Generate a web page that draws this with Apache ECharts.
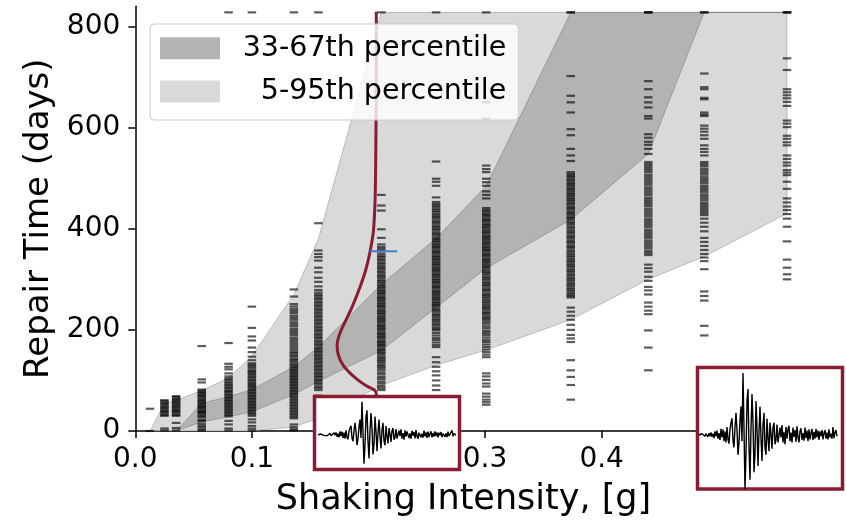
<!DOCTYPE html>
<html>
<head>
<meta charset="utf-8">
<script src="https://cdn.jsdelivr.net/npm/echarts@6.0.0/dist/echarts.min.js"></script>
<style>
html, body { margin: 0; padding: 0; background: #ffffff; }
#chart { width: 846px; height: 522px; }
</style>
</head>
<body>
<div id="chart"></div>
<script>
// Shaking intensity levels (g) at which repair times were simulated
const imLevels = [0.0126, 0.025, 0.035, 0.057, 0.080, 0.100, 0.136, 0.157, 0.211, 0.258, 0.301, 0.3735, 0.440, 0.488, 0.559];

// Percentile envelopes of repair time (days) at each intensity level
const p05 = [0, 0, 0, 0, 0, 0, 8, 25, 90, 130, 160, 220, 300, 345, 430];
const p33 = [0, 0, 0, 18, 28, 38, 72, 98, 159, 244, 322, 418, 548, 828, 828];
const p67 = [0, 0, 0, 55, 68, 82, 127, 166, 290, 381, 485, 828, 828, 828, 828];
const p95 = [0, 55, 61, 80, 105, 148, 270, 380, 828, 828, 828, 828, 828, 828, 828];

// Simulated repair times (days) per intensity level; 828 is the cap
const rt01 = [44, 0];
const rt02 = [61, 59, 56, 54, 51, 48, 46, 43, 40, 38, 35, 32, 30, 5, 1];
const rt03 = [69, 67, 64, 62, 60, 57, 55, 52, 50, 47, 45, 42, 40, 38, 35, 32, 30, 16, 6, 1];
const rt04 = [168, 102, 96, 82, 80, 77, 75, 72, 70, 68, 65, 62, 60, 58, 55, 53, 50, 48, 46, 43, 40, 38, 36, 33, 30, 27, 22, 19, 14, 10, 7, 3, 1];
const rt05 = [828, 174, 133, 127, 122, 114, 108, 104, 101, 97, 94, 91, 88, 85, 82, 79, 77, 74, 71, 68, 65, 62, 59, 56, 53, 50, 47, 44, 41, 38, 35, 32, 29, 20, 13, 5, 1];
const rt06 = [828, 246, 204, 187, 179, 165, 156, 147, 140, 134, 131, 128, 125, 121, 118, 116, 113, 110, 107, 104, 101, 98, 95, 92, 90, 87, 84, 81, 78, 75, 72, 69, 66, 63, 60, 57, 54, 51, 48, 45, 42, 39, 36, 33, 30, 23, 17, 10, 5, 1];
const rt07 = [828, 280, 266, 251, 246, 241, 237, 233, 228, 224, 220, 215, 211, 207, 202, 198, 194, 190, 185, 181, 177, 173, 169, 165, 161, 157, 154, 150, 147, 143, 140, 137, 133, 130, 127, 124, 121, 118, 115, 112, 109, 106, 103, 100, 97, 94, 91, 88, 85, 82, 79, 76, 73, 70, 67, 64, 61, 58, 55, 52, 49, 46, 43, 40, 37, 34, 31, 28, 25, 13, 8, 4, 1];
const rt08 = [828, 411, 357, 350, 344, 337, 323, 314, 303, 295, 286, 279, 274, 270, 267, 263, 260, 256, 253, 249, 246, 242, 239, 235, 232, 228, 225, 221, 218, 214, 211, 207, 204, 200, 197, 193, 190, 186, 183, 179, 176, 172, 169, 165, 162, 158, 155, 151, 148, 144, 141, 137, 134, 130, 127, 123, 120, 116, 113, 109, 106, 102, 99, 95, 92, 88, 85, 81, 70, 58, 45, 30, 12];
const rt09 = [828, 467, 446, 436, 399, 382, 369, 364, 360, 356, 351, 347, 344, 340, 337, 333, 330, 326, 323, 320, 316, 313, 309, 306, 303, 299, 296, 293, 289, 286, 283, 279, 276, 273, 270, 266, 263, 260, 257, 253, 250, 247, 244, 240, 237, 234, 231, 227, 224, 221, 218, 215, 211, 208, 205, 202, 199, 195, 192, 189, 186, 183, 179, 176, 173, 170, 167, 163, 160, 157, 154, 151, 147, 144, 141, 138, 135, 131, 128, 125, 121, 116, 112, 107, 103, 98, 94, 89, 85, 81];
const rt10 = [828, 533, 499, 493, 485, 462, 453, 449, 446, 443, 439, 436, 433, 429, 426, 423, 420, 416, 413, 410, 406, 403, 400, 397, 393, 390, 387, 383, 380, 377, 374, 370, 367, 364, 361, 357, 354, 351, 347, 344, 341, 338, 334, 331, 328, 324, 321, 318, 315, 311, 308, 305, 301, 298, 295, 292, 288, 285, 282, 278, 275, 272, 269, 265, 262, 259, 255, 252, 249, 246, 242, 239, 236, 232, 229, 226, 222, 219, 216, 212, 209, 205, 202, 199, 194, 189, 184, 180, 175, 170, 166, 146, 136, 127, 118, 110, 100, 90, 81];
const rt11 = [828, 650, 618, 525, 518, 512, 499, 492, 485, 474, 467, 460, 441, 437, 434, 430, 427, 424, 420, 417, 414, 410, 407, 404, 401, 397, 394, 391, 387, 384, 381, 378, 374, 371, 368, 364, 361, 358, 355, 351, 348, 345, 341, 338, 335, 332, 328, 325, 322, 318, 315, 312, 309, 305, 302, 299, 295, 292, 289, 286, 282, 279, 276, 272, 269, 266, 263, 259, 256, 253, 249, 246, 243, 240, 236, 233, 230, 226, 223, 220, 216, 212, 207, 203, 198, 194, 190, 185, 180, 176, 171, 166, 161, 156, 151, 146, 114, 108, 101, 94, 88, 74, 68, 62, 57, 52];
const rt12 = [828, 828, 702, 663, 650, 630, 597, 585, 558, 545, 534, 512, 508, 505, 502, 498, 495, 491, 488, 485, 481, 478, 475, 471, 468, 465, 461, 458, 455, 451, 448, 444, 441, 438, 434, 431, 428, 424, 421, 418, 414, 411, 408, 404, 401, 397, 394, 391, 387, 384, 381, 377, 374, 371, 367, 364, 361, 357, 354, 350, 347, 344, 340, 337, 334, 330, 327, 324, 320, 317, 314, 310, 307, 303, 300, 297, 293, 290, 287, 283, 280, 277, 273, 270, 267, 264, 244, 236, 228, 220, 210, 200, 190, 183, 176, 140, 120, 107, 91, 62];
const rt13 = [828, 828, 828, 692, 676, 660, 650, 640, 623, 618, 587, 580, 572, 566, 558, 548, 532, 528, 524, 520, 516, 512, 507, 503, 499, 495, 491, 487, 482, 478, 474, 470, 466, 461, 457, 453, 449, 445, 440, 436, 432, 428, 424, 419, 415, 411, 407, 403, 398, 394, 390, 386, 382, 377, 373, 369, 365, 361, 356, 352, 348, 329, 322, 315, 305, 297, 285, 278, 270, 254, 246, 238, 231, 199, 165, 120];
const rt14 = [828, 828, 707, 680, 676, 659, 656, 630, 626, 623, 604, 598, 592, 585, 578, 565, 558, 552, 545, 532, 528, 524, 519, 515, 511, 507, 502, 498, 494, 490, 485, 481, 477, 473, 468, 464, 460, 456, 451, 447, 443, 439, 435, 431, 427, 420, 412, 404, 395, 382, 374, 366, 358, 350, 343, 336, 320, 276, 267, 258, 208, 189];
const rt15 = [828, 828, 828, 737, 714, 676, 670, 664, 658, 651, 643, 614, 608, 601, 584, 578, 571, 565, 545, 538, 531, 525, 516, 511, 506, 493, 479, 460, 452, 444, 437, 429, 420, 404, 375, 339, 323, 310, 300];
const repairColumns = [rt01, rt02, rt03, rt04, rt05, rt06, rt07, rt08, rt09, rt10, rt11, rt12, rt13, rt14, rt15];

// Repair-time density at the highlighted intensity, drawn sideways
const pdfIM   = [0.2067, 0.2067, 0.2066, 0.2063, 0.2057, 0.2042, 0.2012, 0.1977, 0.1926, 0.1857, 0.1797, 0.1750, 0.1731, 0.1742, 0.1780, 0.1840, 0.1909, 0.1977, 0.2029, 0.2063, 0.2075];
const pdfDays = [829, 740, 656, 558, 460, 395, 353, 319, 284, 244, 215, 190, 170, 150, 131, 115, 101, 90, 84, 78, 40];

// Highlighted building: intensity span and repair time
const markIM = [0.2012, 0.2246];
const markDays = 355.6;

// Ground-motion record shown in the insets (normalised acceleration)
const groundMotion = [
  0, 0.01, -0.01, 0.02, -0.01, 0.01, -0.02, 0.02, 0, -0.03,
  0.03, -0.02, 0.04, -0.03, 0.02,
  -0.05, 0.06, -0.02, 0.07, -0.06, 0.03, -0.08, 0.1, -0.04, 0.09,
  -0.1, 0.06, -0.12, 0.13, -0.07,
  -0.14, 0.1, 0.2, 0.27, -0.1, -0.2, 0.12, 0.36, 0.08, -0.32,
  -0.12, 0.24, 0.46, -0.1,
  1.0, 0.1, -0.88, -0.3, 0.55, 0.74, -0.2, -0.72, 0.1, 0.66,
  0.2, -0.6, -0.3, 0.55, 0.1, -0.5,
  0.05, 0.46, -0.05, -0.42, 0.15, 0.36, -0.2, -0.32, 0.26, -0.05,
  -0.26, 0.2, 0.02, -0.22, 0.12, 0.2, -0.15, -0.08, 0.17, -0.12,
  -0.14, 0.12, -0.04, 0.16, -0.12, 0.05, -0.15, 0.13, -0.06, 0.1,
  0.15, -0.1, 0.04, -0.12, 0.12, -0.03, 0.08, -0.11, 0.14, -0.04,
  -0.12, 0.06, 0.11, -0.08, 0.03, -0.09, 0.12, -0.05, 0.07, -0.1,
  0.09, -0.07, 0.03, 0.1, -0.08, 0.05, -0.06, 0.1, -0.04, 0.07,
  -0.08, 0.06, -0.02, 0.08, -0.07, 0.03, 0.08, -0.06, 0.04, -0.07,
  0.09, -0.04, 0.02, -0.06, 0.13, -0.05, 0.04, 0.08, -0.02];

// Axis ticks
const xTicks = [0, 0.1, 0.2, 0.3, 0.4, 0.5];
const yTicks = [0, 200, 400, 600, 800];

const FONT = 'DejaVu Sans';
const RED = '#8a1c31';
const EDGE = 'rgba(0,0,0,0.2)';

function band(name, lower, upper, fill) {
  return {
    name: name,
    type: 'custom',
    xAxisIndex: 0,
    yAxisIndex: 0,
    z: 1,
    clip: true,
    itemStyle: { color: fill },
    data: [[imLevels[0], 0]],
    renderItem: function (params, api) {
      const pts = [];
      for (let i = 0; i < imLevels.length; i++) pts.push(api.coord([imLevels[i], upper[i]]));
      for (let i = imLevels.length - 1; i >= 0; i--) pts.push(api.coord([imLevels[i], lower[i]]));
      return { type: 'polygon', shape: { points: pts }, style: { fill: fill, stroke: EDGE, lineWidth: 1 } };
    }
  };
}

const dashes = [];
repairColumns.forEach(function (col, i) {
  col.forEach(function (d) { dashes.push([imLevels[i], d]); });
});

const waveData = groundMotion.map(function (v, i) { return [i, v]; });

const chart = echarts.init(document.getElementById('chart'), null, { renderer: 'canvas' });
chart.setOption({
  animation: false,
  backgroundColor: '#ffffff',
  textStyle: { fontFamily: FONT },
  grid: [
    { left: 135.3, top: 6.3, right: 54.3, bottom: 87.3 },
    { left: 314.5, top: 396.5, width: 145, height: 73, show: true, backgroundColor: '#ffffff', borderColor: RED, borderWidth: 3.5, z: 10 },
    { left: 697.5, top: 367.5, width: 145, height: 121.5, show: true, backgroundColor: '#ffffff', borderColor: RED, borderWidth: 3.5, z: 10 }
  ],
  legend: {
    data: ['33-67th percentile', '  5-95th percentile'],
    orient: 'vertical',
    left: 150,
    top: 24,
    icon: 'rect',
    itemWidth: 60,
    itemHeight: 22,
    itemGap: 14.3,
    padding: [9.7, 12, 14, 10],
    backgroundColor: 'rgba(255,255,255,0.8)',
    borderColor: '#cccccc',
    borderWidth: 1,
    borderRadius: 4,
    itemStyle: { borderWidth: 0 },
    selectedMode: false,
    textStyle: { fontFamily: FONT, fontSize: 28.5, color: '#000000', padding: [0, 0, 0, 17.7] }
  },
  xAxis: [
    {
      type: 'value', gridIndex: 0, min: 0, max: 0.563,
      name: 'Shaking Intensity, [g]', nameLocation: 'middle', nameGap: 51,
      nameTextStyle: { fontFamily: FONT, fontSize: 35, color: '#000' },
      axisLine: { lineStyle: { color: '#000', width: 1.5 } },
      axisTick: { show: true, length: 7, lineStyle: { color: '#000', width: 1.5 }, customValues: xTicks },
      axisLabel: { fontFamily: FONT, fontSize: 28, color: '#000', margin: 15, customValues: xTicks,
        formatter: function (v) { return v.toFixed(1); } },
      splitLine: { show: false }
    },
    { type: 'value', gridIndex: 1, min: -3.5, max: 141.5, show: false },
    { type: 'value', gridIndex: 2, min: -1.5, max: 143.5, show: false }
  ],
  yAxis: [
    {
      type: 'value', gridIndex: 0, min: 0, max: 840,
      name: 'Repair Time (days)', nameLocation: 'middle', nameGap: 78, nameRotate: 90,
      nameTextStyle: { fontFamily: FONT, fontSize: 34, color: '#000' },
      axisLine: { show: true, lineStyle: { color: '#000', width: 1.5 } },
      axisTick: { show: true, length: 7, lineStyle: { color: '#000', width: 1.5 }, customValues: yTicks },
      axisLabel: { fontFamily: FONT, fontSize: 28, color: '#000', margin: 15, customValues: yTicks },
      splitLine: { show: false }
    },
    { type: 'value', gridIndex: 1, min: -1.055, max: 1.158, show: false },
    { type: 'value', gridIndex: 2, min: -0.871, max: 1.089, show: false }
  ],
  series: [
    band('  5-95th percentile', p05, p95, '#d9d9d9'),
    band('33-67th percentile', p33, p67, '#b3b3b3'),
    {
      name: 'Simulated repair time',
      type: 'scatter',
      xAxisIndex: 0, yAxisIndex: 0,
      z: 2,
      symbol: 'rect',
      symbolSize: [8.5, 2.2],
      itemStyle: { color: 'rgba(0,0,0,0.8)' },
      silent: true,
      data: dashes
    },
    {
      name: 'Repair-time density',
      type: 'line',
      xAxisIndex: 0, yAxisIndex: 0,
      z: 3,
      smooth: 0.3,
      showSymbol: false,
      lineStyle: { color: RED, width: 3 },
      data: pdfIM.map(function (x, i) { return [x, pdfDays[i]]; })
    },
    {
      name: 'Highlighted building',
      type: 'line',
      xAxisIndex: 0, yAxisIndex: 0,
      z: 3,
      showSymbol: false,
      lineStyle: { color: '#4a78d0', width: 2 },
      data: [[markIM[0], markDays], [markIM[1], markDays]]
    },
    {
      name: 'Ground motion (low)',
      type: 'line',
      xAxisIndex: 1, yAxisIndex: 1,
      z: 12,
      showSymbol: false,
      lineStyle: { color: '#000', width: 1.4 },
      data: waveData
    },
    {
      name: 'Ground motion (high)',
      type: 'line',
      xAxisIndex: 2, yAxisIndex: 2,
      z: 12,
      showSymbol: false,
      lineStyle: { color: '#000', width: 1.4 },
      data: waveData
    }
  ]
});
</script>
</body>
</html>
